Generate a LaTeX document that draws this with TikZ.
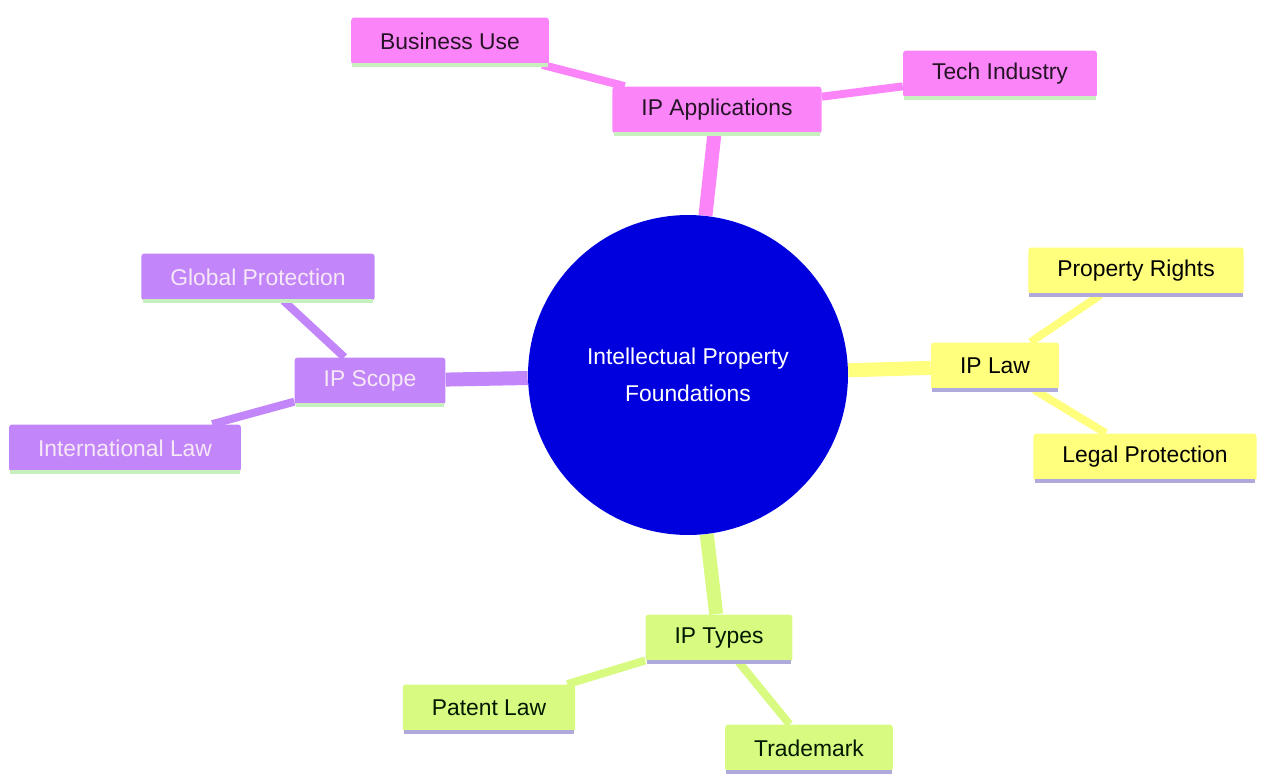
\documentclass[tikz,border=0pt]{standalone}
\usepackage{fontspec}
\setmainfont{Liberation Sans}
\usepackage{tikz}
\usetikzlibrary{backgrounds}

\definecolor{appfill}{RGB}{250,132,248}
\definecolor{appline}{RGB}{200,240,190}
\definecolor{scopefill}{RGB}{194,134,250}
\definecolor{scopetext}{RGB}{246,232,246}
\definecolor{lawfill}{RGB}{255,255,125}
\definecolor{lawline}{RGB}{176,170,220}
\definecolor{typefill}{RGB}{216,250,128}
\definecolor{rootfill}{RGB}{0,0,222}

\tikzset{
  leaf/.style={rounded corners=0.06cm, inner xsep=0.58cm, minimum height=0.94cm,
    font=\fontsize{13}{15}\selectfont},
  underline/.style={line width=0.07cm},
  trunk/.style={line width=0.28cm},
  twig/.style={line width=0.16cm}
}

\begin{document}
\begin{tikzpicture}[x=0.02cm, y=-0.02cm]
            \useasboundingbox (0, 0) rectangle (1261, 774);
            % root
            \node[circle, fill=rootfill, minimum size=6.4cm, align=center, text=white,
              font=\fontsize{13}{21}\selectfont](root) at (688, 375){Intellectual Property\\Foundations};
            % branches
            \node[leaf, fill=appfill, text=black!85!appfill](app) at (717, 110){IP Applications};
            \node[leaf, fill=appfill, text=black!85!appfill](busi) at (450, 41){Business Use};
            \node[leaf, fill=appfill, text=black!85!appfill](tech) at (1000, 74){Tech Industry};
            \node[leaf, fill=scopefill, text=scopetext](scope) at (370, 381){IP Scope};
            \node[leaf, fill=scopefill, text=scopetext](glob) at (258, 277){Global Protection};
            \node[leaf, fill=scopefill, text=scopetext](intl) at (125, 448){International Law};
            \node[leaf, fill=lawfill, text=black](law) at (995, 366){IP Law};
            \node[leaf, fill=lawfill, text=black](rights) at (1136, 271){Property Rights};
            \node[leaf, fill=lawfill, text=black](legal) at (1145, 457){Legal Protection};
            \node[leaf, fill=typefill, text=black!90!green](types) at (719, 638){IP Types};
            \node[leaf, fill=typefill, text=black!90!green](patent) at (489, 708){Patent Law};
            \node[leaf, fill=typefill, text=black!90!green](mark) at (809, 748){Trademark};
            % underlines
            \foreach \n/\c in {app/appline, busi/appline, tech/appline, scope/appline, glob/appline, intl/appline,
              law/lawline, rights/lawline, legal/lawline, types/lawline, patent/lawline, mark/lawline}
              \draw[underline, \c]([xshift=0.03cm]\n.south west)--([xshift=-0.03cm]\n.south east);
            \begin{scope}[on background layer]
              \draw[trunk, appfill](root)--(app);
              \draw[twig, appfill](app)--(busi) (app)--(tech);
              \draw[trunk, scopefill](root)--(scope);
              \draw[twig, scopefill](scope)--(glob) (scope)--(intl);
              \draw[trunk, lawfill](root)--(law);
              \draw[twig, lawfill](law)--(rights) (law)--(legal);
              \draw[trunk, typefill](root)--(types);
              \draw[twig, typefill](types)--(patent) (types)--(mark);
            \end{scope}
        \end{tikzpicture}
\end{document}
